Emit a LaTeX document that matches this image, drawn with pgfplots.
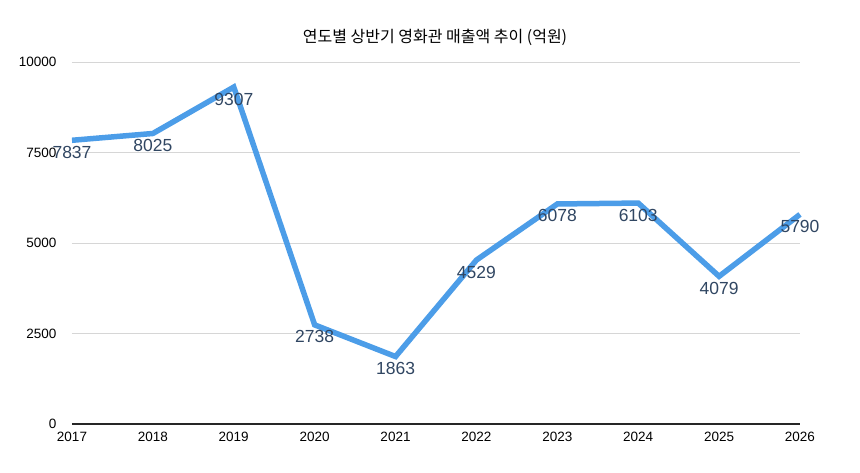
\documentclass[border=0pt]{standalone}
\usepackage{fontspec}
\setmainfont{Liberation Sans}
\newfontfamily\krfont{Noto Sans CJK KR}
\usepackage{pgfplots}
\pgfplotsset{compat=1.18}
\definecolor{lineblue}{RGB}{76,157,232}
\definecolor{lblcol}{RGB}{48,70,98}
\definecolor{gridgray}{RGB}{214,214,214}
\begin{document}
\begin{tikzpicture}[x=1pt,y=1pt]
\path[use as bounding box] (0,0) rectangle (860,473);
\begin{axis}[
  at={(72pt,49pt)}, anchor=south west,
  scale only axis, width=728pt, height=362pt,
  xmin=2017, xmax=2026, ymin=0, ymax=10000,
  xtick={2017,...,2026}, ytick={0,2500,5000,7500,10000},
  /pgf/number format/assume math mode=true,
  xticklabel style={/pgf/number format/1000 sep={}, font=\fontsize{13.5}{15}\selectfont, yshift=-5pt},
  yticklabel style={/pgf/number format/1000 sep={}, font=\fontsize{13.5}{15}\selectfont, xshift=-12pt},
  scaled y ticks=false,
  axis line style={draw=none},
  tick style={draw=none},
  ymajorgrids, major grid style={gridgray, line width=0.8pt},
  clip=false,
]
\addplot[lineblue, line width=5.5pt, line join=miter, miter limit=10,
  nodes near coords, point meta=explicit symbolic,
  every node near coord/.style={anchor=north, font=\fontsize{17.5}{19}\selectfont, text=lblcol, inner sep=1pt, yshift=-2pt}]
 table[meta=lab] {
x y lab
2017 7837 7837
2018 8025 8025
2019 9307 9307
2020 2738 2738
2021 1863 1863
2022 4529 4529
2023 6078 6078
2024 6103 6103
2025 4079 4079
2026 5790 5790
};
\draw[black!85, line width=1.5pt] (axis cs:2017,0) -- (axis cs:2026,0);
\end{axis}
\node[font=\krfont\fontsize{16}{18}\selectfont, anchor=center] at (435,436) {연도별 상반기 영화관 매출액 추이 (억원)};
\end{tikzpicture}
\end{document}
